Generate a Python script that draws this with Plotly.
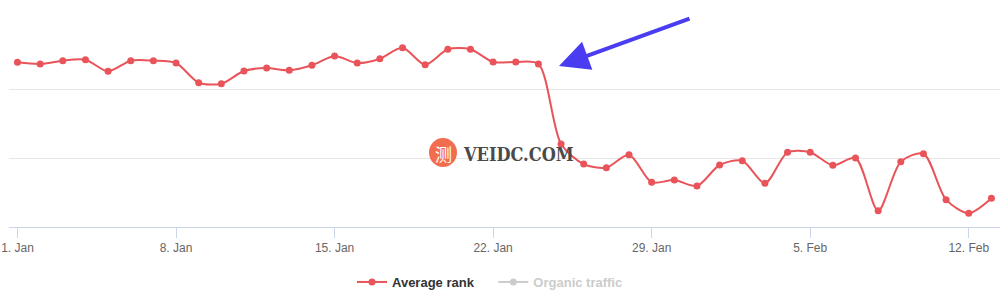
import pandas as pd
import plotly.graph_objects as go

# ---- data ----
start_date = "2024-01-01"
n_days = 44
dates = pd.date_range(start_date, periods=n_days, freq="D")
avg_rank = [23.98, 23.74, 24.22, 24.36, 22.67, 24.22, 24.22, 23.88, 21.01, 20.87,
            22.72, 23.15, 22.82, 23.55, 24.90, 23.88, 24.51, 26.11, 23.63, 25.88,
            25.88, 24.03, 24.03, 23.74, 12.09, 9.17, 8.64, 10.53, 6.51, 6.84,
            5.97, 9.03, 9.65, 6.36, 10.88, 10.88, 8.98, 10.05, 2.37, 9.51,
            10.67, 3.98, 2.00, 4.18]
tick_dates = ["2024-01-01", "2024-01-08", "2024-01-15", "2024-01-22",
              "2024-01-29", "2024-02-05", "2024-02-12"]
tick_labels = ["1. Jan", "8. Jan", "15. Jan", "22. Jan", "29. Jan", "5. Feb", "12. Feb"]
organic_traffic = [None]  # hidden series (legend only, no values shown)

RED = "#e8545a"
W, H = 1000, 307
ML, MR, MT, MB = 9, 0, 21, 80

fig = go.Figure()
fig.add_trace(go.Scatter(
    x=dates, y=avg_rank, name="<b>Average rank</b>&nbsp;&nbsp;&nbsp;&nbsp;",
    mode="lines+markers",
    line=dict(color=RED, width=2, shape="spline", smoothing=0.8),
    marker=dict(color=RED, size=7),
))
fig.add_trace(go.Scatter(
    x=dates[:1], y=organic_traffic,
    name='<b><span style="color:#cccccc">Organic traffic</span></b>',
    mode="lines+markers",
    line=dict(color="#cccccc", width=2),
    marker=dict(color="#cccccc", size=7),
))

x0 = pd.Timestamp(start_date) - pd.Timedelta(hours=9)
x1 = pd.Timestamp(start_date) + pd.Timedelta(days=43.38)

fig.update_xaxes(
    range=[x0, x1], tickvals=pd.to_datetime(tick_dates), ticktext=tick_labels,
    showgrid=False, showline=True, linecolor="#ccd6eb", linewidth=1,
    ticks="outside", ticklen=10, tickcolor="#ccd6eb", tickwidth=1,
    tickfont=dict(family="Liberation Sans, Arial", size=12, color="#666666"),
    zeroline=False, fixedrange=True,
)
fig.update_yaxes(
    range=[0, 30], tickvals=[0, 10, 20, 30], showticklabels=False,
    showgrid=True, gridcolor="#e6e6e6", gridwidth=1, zeroline=False,
    showline=False, fixedrange=True,
)

def px_x(p):
    return (p - ML) / (W - ML - MR)

def px_y(p):
    return (H - MB - p) / (H - MT - MB)

# arrow annotation
fig.add_annotation(
    x=px_x(559), y=px_y(66), xref="paper", yref="paper", text="",
    showarrow=True, ax=132, ay=-48, arrowhead=2, arrowsize=1.5,
    arrowwidth=4, arrowcolor="#4a3cf0",
)
# watermark
fig.add_shape(type="circle", xref="paper", yref="paper",
              x0=px_x(429), x1=px_x(457), y0=px_y(167), y1=px_y(138),
              fillcolor="#f26d50", line=dict(width=0), layer="above")
fig.add_annotation(x=px_x(443), y=px_y(153), xref="paper", yref="paper",
                   text="测", showarrow=False,
                   font=dict(family="Noto Sans CJK SC", size=17, color="white"))
fig.add_annotation(x=px_x(518), y=px_y(154), xref="paper", yref="paper",
                   text="<b>VEIDC.COM</b>", showarrow=False,
                   font=dict(family="DejaVu Serif Condensed, Liberation Serif",
                             size=18, color="#4a4a4a"))

fig.update_layout(
    width=W, height=H, margin=dict(l=ML, r=MR, t=MT, b=MB),
    paper_bgcolor="white", plot_bgcolor="white",
    showlegend=True,
    legend=dict(orientation="h", x=px_x(490), xanchor="center", y=px_y(282),
                yanchor="middle",
                font=dict(family="Liberation Sans, Arial", size=13, color="#333333"),
                itemclick=False, itemdoubleclick=False, itemwidth=30),
    hovermode=False,
)

fig.write_html("out.html")
